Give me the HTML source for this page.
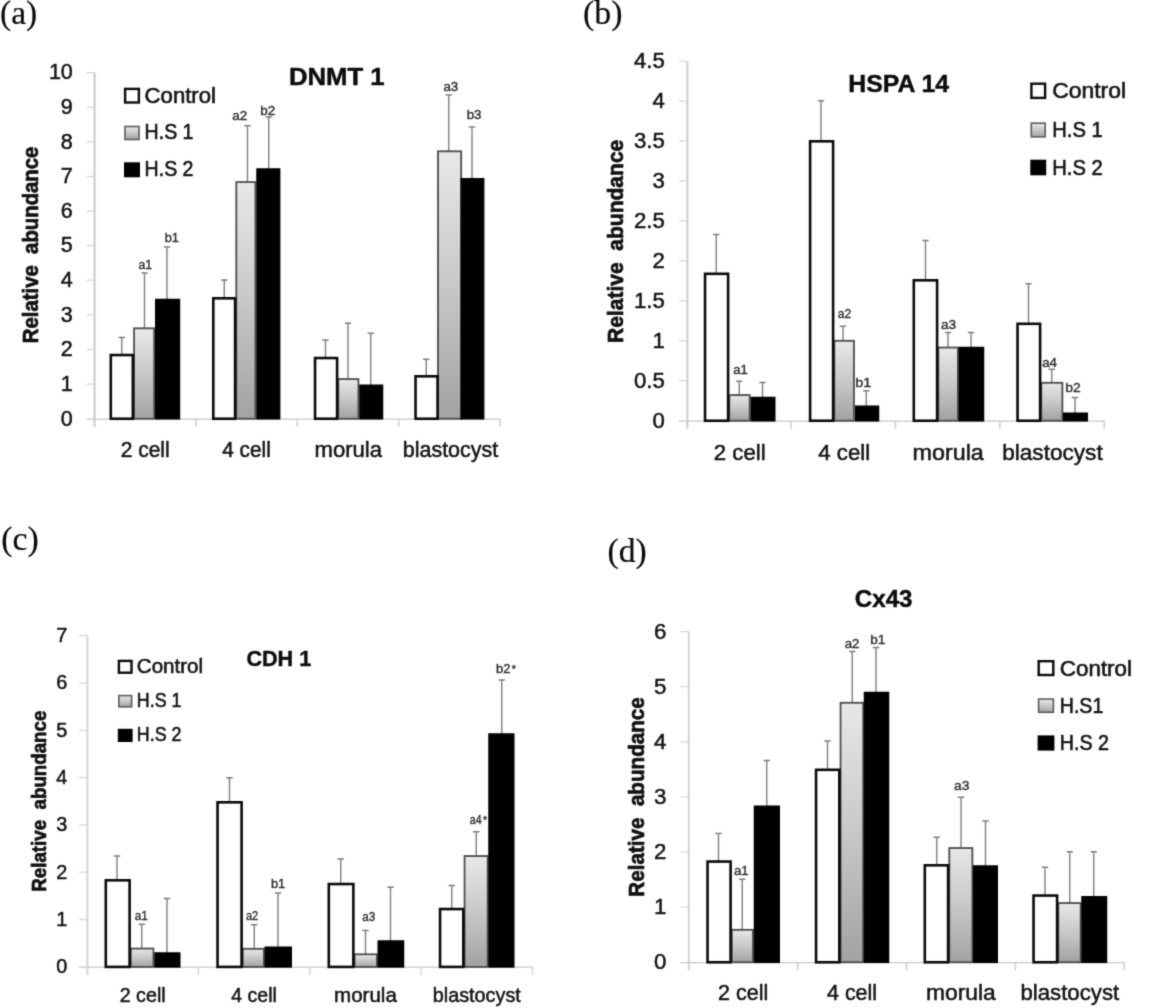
<!DOCTYPE html>
<html><head><meta charset="utf-8"><title>Figure</title>
<style>
html,body{margin:0;padding:0;background:#fff;}
body{width:1158px;height:1008px;overflow:hidden;font-family:"Liberation Sans",sans-serif;}
svg{display:block;}
</style></head><body>
<svg width="1158" height="1008" viewBox="0 0 1158 1008">
<defs><linearGradient id="gg" x1="0" y1="0" x2="0" y2="1"><stop offset="0" stop-color="#e8e8e8"/><stop offset="0.5" stop-color="#c8c8c8"/><stop offset="1" stop-color="#a2a2a2"/></linearGradient></defs>
<filter id="soft" x="0" y="0" width="1158" height="1008" filterUnits="userSpaceOnUse" color-interpolation-filters="sRGB"><feConvolveMatrix order="3" kernelMatrix="0.02426 0.10723 0.02426 0.10723 0.47405 0.10723 0.02426 0.10723 0.02426" divisor="1" edgeMode="duplicate" preserveAlpha="true"/></filter>
<g filter="url(#soft)">
<rect width="1158" height="1008" fill="#fff"/>
<path d="M94.5 72.55000000000001 V426.75" stroke="#cfcfcf" stroke-width="2.3" fill="none"/>
<path d="M86.5 419.15 H500" stroke="#c8c8c8" stroke-width="1.4" fill="none"/>
<text x="72.8" y="425.55" font-size="21.5" text-anchor="end" font-weight="normal" font-family='"Liberation Sans", sans-serif' fill="#141414" stroke="#141414" stroke-width="0.5" stroke-linejoin="round">0</text>
<path d="M86.5 384.13 H94.5" stroke="#d2d2d2" stroke-width="1.1"/>
<text x="72.8" y="390.93" font-size="21.5" text-anchor="end" font-weight="normal" font-family='"Liberation Sans", sans-serif' fill="#141414" stroke="#141414" stroke-width="0.5" stroke-linejoin="round">1</text>
<path d="M86.5 349.51 H94.5" stroke="#d2d2d2" stroke-width="1.1"/>
<text x="72.8" y="356.31" font-size="21.5" text-anchor="end" font-weight="normal" font-family='"Liberation Sans", sans-serif' fill="#141414" stroke="#141414" stroke-width="0.5" stroke-linejoin="round">2</text>
<path d="M86.5 314.89 H94.5" stroke="#d2d2d2" stroke-width="1.1"/>
<text x="72.8" y="321.69" font-size="21.5" text-anchor="end" font-weight="normal" font-family='"Liberation Sans", sans-serif' fill="#141414" stroke="#141414" stroke-width="0.5" stroke-linejoin="round">3</text>
<path d="M86.5 280.27 H94.5" stroke="#d2d2d2" stroke-width="1.1"/>
<text x="72.8" y="287.07" font-size="21.5" text-anchor="end" font-weight="normal" font-family='"Liberation Sans", sans-serif' fill="#141414" stroke="#141414" stroke-width="0.5" stroke-linejoin="round">4</text>
<path d="M86.5 245.65 H94.5" stroke="#d2d2d2" stroke-width="1.1"/>
<text x="72.8" y="252.45" font-size="21.5" text-anchor="end" font-weight="normal" font-family='"Liberation Sans", sans-serif' fill="#141414" stroke="#141414" stroke-width="0.5" stroke-linejoin="round">5</text>
<path d="M86.5 211.03 H94.5" stroke="#d2d2d2" stroke-width="1.1"/>
<text x="72.8" y="217.83" font-size="21.5" text-anchor="end" font-weight="normal" font-family='"Liberation Sans", sans-serif' fill="#141414" stroke="#141414" stroke-width="0.5" stroke-linejoin="round">6</text>
<path d="M86.5 176.41 H94.5" stroke="#d2d2d2" stroke-width="1.1"/>
<text x="72.8" y="183.21" font-size="21.5" text-anchor="end" font-weight="normal" font-family='"Liberation Sans", sans-serif' fill="#141414" stroke="#141414" stroke-width="0.5" stroke-linejoin="round">7</text>
<path d="M86.5 141.79 H94.5" stroke="#d2d2d2" stroke-width="1.1"/>
<text x="72.8" y="148.59" font-size="21.5" text-anchor="end" font-weight="normal" font-family='"Liberation Sans", sans-serif' fill="#141414" stroke="#141414" stroke-width="0.5" stroke-linejoin="round">8</text>
<path d="M86.5 107.17 H94.5" stroke="#d2d2d2" stroke-width="1.1"/>
<text x="72.8" y="113.97" font-size="21.5" text-anchor="end" font-weight="normal" font-family='"Liberation Sans", sans-serif' fill="#141414" stroke="#141414" stroke-width="0.5" stroke-linejoin="round">9</text>
<path d="M86.5 72.55 H94.5" stroke="#d2d2d2" stroke-width="1.1"/>
<text x="72.8" y="79.35" font-size="21.5" text-anchor="end" font-weight="normal" font-family='"Liberation Sans", sans-serif' fill="#141414" stroke="#141414" stroke-width="0.5" stroke-linejoin="round">10</text>
<path d="M195.88 418.75 V426.75" stroke="#cdcdcd" stroke-width="1.5"/>
<path d="M297.25 418.75 V426.75" stroke="#cdcdcd" stroke-width="1.5"/>
<path d="M398.62 418.75 V426.75" stroke="#cdcdcd" stroke-width="1.5"/>
<path d="M500.00 418.75 V426.75" stroke="#cdcdcd" stroke-width="1.5"/>
<text x="145.19" y="457.2" font-size="21.4" text-anchor="middle" font-weight="normal" font-family='"Liberation Sans", sans-serif' fill="#141414" textLength="49" lengthAdjust="spacingAndGlyphs" stroke="#141414" stroke-width="0.5" stroke-linejoin="round">2 cell</text>
<text x="246.56" y="457.2" font-size="21.4" text-anchor="middle" font-weight="normal" font-family='"Liberation Sans", sans-serif' fill="#141414" textLength="48.5" lengthAdjust="spacingAndGlyphs" stroke="#141414" stroke-width="0.5" stroke-linejoin="round">4 cell</text>
<text x="348.24" y="457.2" font-size="21.4" text-anchor="middle" font-weight="normal" font-family='"Liberation Sans", sans-serif' fill="#141414" textLength="67.5" lengthAdjust="spacingAndGlyphs" stroke="#141414" stroke-width="0.5" stroke-linejoin="round">morula</text>
<text x="450.51" y="457.2" font-size="21.4" text-anchor="middle" font-weight="normal" font-family='"Liberation Sans", sans-serif' fill="#141414" textLength="95.5" lengthAdjust="spacingAndGlyphs" stroke="#141414" stroke-width="0.5" stroke-linejoin="round">blastocyst</text>
<text x="145.25" y="269.3" font-size="12.5" text-anchor="middle" font-weight="normal" font-family='"Liberation Sans", sans-serif' fill="#303030" textLength="13.5" lengthAdjust="spacingAndGlyphs" stroke="#303030" stroke-width="0.4" stroke-linejoin="round">a1</text>
<text x="171.88" y="242.3" font-size="12.5" text-anchor="middle" font-weight="normal" font-family='"Liberation Sans", sans-serif' fill="#303030" textLength="14.2" lengthAdjust="spacingAndGlyphs" stroke="#303030" stroke-width="0.4" stroke-linejoin="round">b1</text>
<text x="239.75" y="120.3" font-size="12.5" text-anchor="middle" font-weight="normal" font-family='"Liberation Sans", sans-serif' fill="#303030" textLength="15.0" lengthAdjust="spacingAndGlyphs" stroke="#303030" stroke-width="0.4" stroke-linejoin="round">a2</text>
<text x="267.75" y="115.3" font-size="12.5" text-anchor="middle" font-weight="normal" font-family='"Liberation Sans", sans-serif' fill="#303030" textLength="15.0" lengthAdjust="spacingAndGlyphs" stroke="#303030" stroke-width="0.4" stroke-linejoin="round">b2</text>
<text x="450.88" y="91" font-size="12.5" text-anchor="middle" font-weight="normal" font-family='"Liberation Sans", sans-serif' fill="#303030" textLength="14.8" lengthAdjust="spacingAndGlyphs" stroke="#303030" stroke-width="0.4" stroke-linejoin="round">a3</text>
<text x="474.12" y="119" font-size="12.5" text-anchor="middle" font-weight="normal" font-family='"Liberation Sans", sans-serif' fill="#303030" textLength="14.8" lengthAdjust="spacingAndGlyphs" stroke="#303030" stroke-width="0.4" stroke-linejoin="round">b3</text>
<path d="M121.75 354.75 V337.5 M118.55 337.5 H124.95" stroke="#7e7e7e" stroke-width="1.4" fill="none"/>
<path d="M144.5 328.5 V273 M141.3 273 H147.7" stroke="#7e7e7e" stroke-width="1.4" fill="none"/>
<path d="M167 299.75 V247 M163.8 247 H170.2" stroke="#7e7e7e" stroke-width="1.4" fill="none"/>
<path d="M224.25 298 V280 M221.05 280 H227.45" stroke="#7e7e7e" stroke-width="1.4" fill="none"/>
<path d="M247.5 182.25 V125.75 M244.3 125.75 H250.7" stroke="#7e7e7e" stroke-width="1.4" fill="none"/>
<path d="M268.75 169.25 V117 M265.55 117 H271.95" stroke="#7e7e7e" stroke-width="1.4" fill="none"/>
<path d="M325.5 357.75 V340 M322.3 340 H328.7" stroke="#7e7e7e" stroke-width="1.4" fill="none"/>
<path d="M348 379.25 V323.25 M344.8 323.25 H351.2" stroke="#7e7e7e" stroke-width="1.4" fill="none"/>
<path d="M370.75 385.5 V333.25 M367.55 333.25 H373.95" stroke="#7e7e7e" stroke-width="1.4" fill="none"/>
<path d="M426.25 376 V359.25 M423.05 359.25 H429.45" stroke="#7e7e7e" stroke-width="1.4" fill="none"/>
<path d="M448.75 151.5 V95 M445.55 95 H451.95" stroke="#7e7e7e" stroke-width="1.4" fill="none"/>
<path d="M472 179 V127 M468.8 127 H475.2" stroke="#7e7e7e" stroke-width="1.4" fill="none"/>
<rect x="134.05" y="328.30" width="20.15" height="90.45" fill="url(#gg)" stroke="#4c4c4c" stroke-width="1.8"/>
<rect x="236.30" y="182.05" width="19.15" height="236.70" fill="url(#gg)" stroke="#4c4c4c" stroke-width="1.8"/>
<rect x="338.30" y="379.05" width="20.15" height="39.70" fill="url(#gg)" stroke="#4c4c4c" stroke-width="1.8"/>
<rect x="438.00" y="151.30" width="23.20" height="267.45" fill="url(#gg)" stroke="#4c4c4c" stroke-width="1.8"/>
<rect x="155.00" y="298.75" width="25.20" height="120.80" fill="#000"/>
<rect x="256.25" y="168.25" width="24.15" height="251.30" fill="#000"/>
<rect x="359.25" y="384.50" width="24.00" height="35.05" fill="#000"/>
<rect x="460.50" y="178.00" width="23.90" height="241.55" fill="#000"/>
<rect x="110.80" y="355.05" width="22.05" height="63.70" fill="#fff" stroke="#0a0a0a" stroke-width="2.6"/>
<rect x="213.30" y="298.30" width="21.80" height="120.45" fill="#fff" stroke="#0a0a0a" stroke-width="2.6"/>
<rect x="315.05" y="358.05" width="22.05" height="60.70" fill="#fff" stroke="#0a0a0a" stroke-width="2.6"/>
<rect x="415.55" y="376.30" width="22.05" height="42.45" fill="#fff" stroke="#0a0a0a" stroke-width="2.6"/>
<text x="288.9" y="85.2" font-size="24.3" text-anchor="start" font-weight="bold" font-family='"Liberation Sans", sans-serif' fill="#0c0c0c" textLength="95.7" lengthAdjust="spacingAndGlyphs" stroke="#0c0c0c" stroke-width="0.45" stroke-linejoin="round">DNMT 1</text>
<text transform="translate(37.8,343.2) rotate(-90)" font-size="21.5" font-weight="bold" font-family='"Liberation Sans", sans-serif' fill="#111" stroke="#111" stroke-width="0.7" stroke-linejoin="round" textLength="196.6" lengthAdjust="spacingAndGlyphs" xml:space="preserve">Relative  abundance</text>
<rect x="125.10" y="88.90" width="13.80" height="13.60" fill="#fff" stroke="#0a0a0a" stroke-width="2.4"/>
<text x="144.6" y="102.6" font-size="21.2" text-anchor="start" font-weight="normal" font-family='"Liberation Sans", sans-serif' fill="#141414" textLength="71.4" lengthAdjust="spacingAndGlyphs" stroke="#141414" stroke-width="0.6" stroke-linejoin="round">Control</text>
<rect x="125.00" y="126.50" width="14.00" height="13.00" fill="url(#gg)" stroke="#5c5c5c" stroke-width="1.6"/>
<text x="144.6" y="139.3" font-size="21.2" text-anchor="start" font-weight="normal" font-family='"Liberation Sans", sans-serif' fill="#141414" textLength="48.9" lengthAdjust="spacingAndGlyphs" stroke="#141414" stroke-width="0.6" stroke-linejoin="round">H.S 1</text>
<rect x="124.00" y="162.30" width="16.00" height="15.00" fill="#000"/>
<text x="144.6" y="176.3" font-size="21.2" text-anchor="start" font-weight="normal" font-family='"Liberation Sans", sans-serif' fill="#141414" textLength="48.9" lengthAdjust="spacingAndGlyphs" stroke="#141414" stroke-width="0.6" stroke-linejoin="round">H.S 2</text>
<text x="0" y="24" font-size="34" text-anchor="start" font-weight="normal" font-family='"Liberation Serif", serif' fill="#0a0a0a" textLength="37.2" lengthAdjust="spacingAndGlyphs" stroke="#0a0a0a" stroke-width="0.2" stroke-linejoin="round">(a)</text>
<path d="M687.35 61.19999999999999 V428.75" stroke="#cfcfcf" stroke-width="2.1" fill="none"/>
<path d="M678.75 421.15 H1104.25" stroke="#c8c8c8" stroke-width="1.4" fill="none"/>
<text x="664.8" y="427.75" font-size="22.2" text-anchor="end" font-weight="normal" font-family='"Liberation Sans", sans-serif' fill="#141414" stroke="#141414" stroke-width="0.5" stroke-linejoin="round">0</text>
<path d="M678.75 380.80 H686.75" stroke="#d2d2d2" stroke-width="1.1"/>
<text x="664.8" y="387.80" font-size="22.2" text-anchor="end" font-weight="normal" font-family='"Liberation Sans", sans-serif' fill="#141414" stroke="#141414" stroke-width="0.5" stroke-linejoin="round">0.5</text>
<path d="M678.75 340.85 H686.75" stroke="#d2d2d2" stroke-width="1.1"/>
<text x="664.8" y="347.85" font-size="22.2" text-anchor="end" font-weight="normal" font-family='"Liberation Sans", sans-serif' fill="#141414" stroke="#141414" stroke-width="0.5" stroke-linejoin="round">1</text>
<path d="M678.75 300.90 H686.75" stroke="#d2d2d2" stroke-width="1.1"/>
<text x="664.8" y="307.90" font-size="22.2" text-anchor="end" font-weight="normal" font-family='"Liberation Sans", sans-serif' fill="#141414" stroke="#141414" stroke-width="0.5" stroke-linejoin="round">1.5</text>
<path d="M678.75 260.95 H686.75" stroke="#d2d2d2" stroke-width="1.1"/>
<text x="664.8" y="267.95" font-size="22.2" text-anchor="end" font-weight="normal" font-family='"Liberation Sans", sans-serif' fill="#141414" stroke="#141414" stroke-width="0.5" stroke-linejoin="round">2</text>
<path d="M678.75 221.00 H686.75" stroke="#d2d2d2" stroke-width="1.1"/>
<text x="664.8" y="228.00" font-size="22.2" text-anchor="end" font-weight="normal" font-family='"Liberation Sans", sans-serif' fill="#141414" stroke="#141414" stroke-width="0.5" stroke-linejoin="round">2.5</text>
<path d="M678.75 181.05 H686.75" stroke="#d2d2d2" stroke-width="1.1"/>
<text x="664.8" y="188.05" font-size="22.2" text-anchor="end" font-weight="normal" font-family='"Liberation Sans", sans-serif' fill="#141414" stroke="#141414" stroke-width="0.5" stroke-linejoin="round">3</text>
<path d="M678.75 141.10 H686.75" stroke="#d2d2d2" stroke-width="1.1"/>
<text x="664.8" y="148.10" font-size="22.2" text-anchor="end" font-weight="normal" font-family='"Liberation Sans", sans-serif' fill="#141414" stroke="#141414" stroke-width="0.5" stroke-linejoin="round">3.5</text>
<path d="M678.75 101.15 H686.75" stroke="#d2d2d2" stroke-width="1.1"/>
<text x="664.8" y="108.15" font-size="22.2" text-anchor="end" font-weight="normal" font-family='"Liberation Sans", sans-serif' fill="#141414" stroke="#141414" stroke-width="0.5" stroke-linejoin="round">4</text>
<path d="M678.75 61.20 H686.75" stroke="#d2d2d2" stroke-width="1.1"/>
<text x="664.8" y="68.20" font-size="22.2" text-anchor="end" font-weight="normal" font-family='"Liberation Sans", sans-serif' fill="#141414" stroke="#141414" stroke-width="0.5" stroke-linejoin="round">4.5</text>
<path d="M791.12 420.75 V428.75" stroke="#cdcdcd" stroke-width="1.5"/>
<path d="M895.50 420.75 V428.75" stroke="#cdcdcd" stroke-width="1.5"/>
<path d="M999.88 420.75 V428.75" stroke="#cdcdcd" stroke-width="1.5"/>
<path d="M1104.25 420.75 V428.75" stroke="#cdcdcd" stroke-width="1.5"/>
<text x="739.74" y="460.3" font-size="22.2" text-anchor="middle" font-weight="normal" font-family='"Liberation Sans", sans-serif' fill="#141414" textLength="52" lengthAdjust="spacingAndGlyphs" stroke="#141414" stroke-width="0.5" stroke-linejoin="round">2 cell</text>
<text x="844.21" y="460.3" font-size="22.2" text-anchor="middle" font-weight="normal" font-family='"Liberation Sans", sans-serif' fill="#141414" textLength="52" lengthAdjust="spacingAndGlyphs" stroke="#141414" stroke-width="0.5" stroke-linejoin="round">4 cell</text>
<text x="948.19" y="460.3" font-size="22.2" text-anchor="middle" font-weight="normal" font-family='"Liberation Sans", sans-serif' fill="#141414" textLength="71.3" lengthAdjust="spacingAndGlyphs" stroke="#141414" stroke-width="0.5" stroke-linejoin="round">morula</text>
<text x="1052.46" y="460.3" font-size="22.2" text-anchor="middle" font-weight="normal" font-family='"Liberation Sans", sans-serif' fill="#141414" textLength="100.5" lengthAdjust="spacingAndGlyphs" stroke="#141414" stroke-width="0.5" stroke-linejoin="round">blastocyst</text>
<text x="740.50" y="374.3" font-size="13" text-anchor="middle" font-weight="normal" font-family='"Liberation Sans", sans-serif' fill="#303030" textLength="14.5" lengthAdjust="spacingAndGlyphs" stroke="#303030" stroke-width="0.4" stroke-linejoin="round">a1</text>
<text x="844.50" y="318" font-size="13" text-anchor="middle" font-weight="normal" font-family='"Liberation Sans", sans-serif' fill="#303030" textLength="13.5" lengthAdjust="spacingAndGlyphs" stroke="#303030" stroke-width="0.4" stroke-linejoin="round">a2</text>
<text x="863.25" y="386.8" font-size="13" text-anchor="middle" font-weight="normal" font-family='"Liberation Sans", sans-serif' fill="#303030" textLength="16.0" lengthAdjust="spacingAndGlyphs" stroke="#303030" stroke-width="0.4" stroke-linejoin="round">b1</text>
<text x="948.62" y="329.3" font-size="13" text-anchor="middle" font-weight="normal" font-family='"Liberation Sans", sans-serif' fill="#303030" textLength="15.2" lengthAdjust="spacingAndGlyphs" stroke="#303030" stroke-width="0.4" stroke-linejoin="round">a3</text>
<text x="1049.62" y="366.5" font-size="13" text-anchor="middle" font-weight="normal" font-family='"Liberation Sans", sans-serif' fill="#303030" textLength="14.8" lengthAdjust="spacingAndGlyphs" stroke="#303030" stroke-width="0.4" stroke-linejoin="round">a4</text>
<text x="1073.00" y="391.5" font-size="13" text-anchor="middle" font-weight="normal" font-family='"Liberation Sans", sans-serif' fill="#303030" textLength="15.5" lengthAdjust="spacingAndGlyphs" stroke="#303030" stroke-width="0.4" stroke-linejoin="round">b2</text>
<path d="M716.25 273.5 V234.5 M713.05 234.5 H719.45" stroke="#7e7e7e" stroke-width="1.4" fill="none"/>
<path d="M739.25 395.25 V381.25 M736.05 381.25 H742.45" stroke="#7e7e7e" stroke-width="1.4" fill="none"/>
<path d="M762.5 397.75 V382.5 M759.3 382.5 H765.7" stroke="#7e7e7e" stroke-width="1.4" fill="none"/>
<path d="M821 141 V100.75 M817.8 100.75 H824.2" stroke="#7e7e7e" stroke-width="1.4" fill="none"/>
<path d="M843 341 V326.25 M839.8 326.25 H846.2" stroke="#7e7e7e" stroke-width="1.4" fill="none"/>
<path d="M866.25 406.5 V390.75 M863.05 390.75 H869.45" stroke="#7e7e7e" stroke-width="1.4" fill="none"/>
<path d="M925.5 280 V240.5 M922.3 240.5 H928.7" stroke="#7e7e7e" stroke-width="1.4" fill="none"/>
<path d="M948 347.75 V332.5 M944.8 332.5 H951.2" stroke="#7e7e7e" stroke-width="1.4" fill="none"/>
<path d="M971 347.75 V332.5 M967.8 332.5 H974.2" stroke="#7e7e7e" stroke-width="1.4" fill="none"/>
<path d="M1028.5 323.5 V283.75 M1025.3 283.75 H1031.7" stroke="#7e7e7e" stroke-width="1.4" fill="none"/>
<path d="M1051.75 383 V369.25 M1048.55 369.25 H1054.95" stroke="#7e7e7e" stroke-width="1.4" fill="none"/>
<path d="M1075 413.5 V397.5 M1071.8 397.5 H1078.2" stroke="#7e7e7e" stroke-width="1.4" fill="none"/>
<rect x="729.30" y="395.05" width="20.40" height="25.70" fill="url(#gg)" stroke="#4c4c4c" stroke-width="1.8"/>
<rect x="834.30" y="340.80" width="19.65" height="79.95" fill="url(#gg)" stroke="#4c4c4c" stroke-width="1.8"/>
<rect x="938.30" y="347.55" width="19.65" height="73.20" fill="url(#gg)" stroke="#4c4c4c" stroke-width="1.8"/>
<rect x="1041.30" y="382.80" width="21.10" height="37.95" fill="url(#gg)" stroke="#4c4c4c" stroke-width="1.8"/>
<rect x="750.50" y="396.75" width="25.00" height="24.80" fill="#000"/>
<rect x="855.00" y="405.50" width="24.25" height="16.05" fill="#000"/>
<rect x="958.50" y="346.75" width="25.75" height="74.80" fill="#000"/>
<rect x="1063.00" y="412.50" width="25.00" height="9.05" fill="#000"/>
<rect x="705.05" y="273.80" width="23.05" height="146.95" fill="#fff" stroke="#0a0a0a" stroke-width="2.6"/>
<rect x="810.10" y="141.30" width="23.00" height="279.45" fill="#fff" stroke="#0a0a0a" stroke-width="2.6"/>
<rect x="913.80" y="280.30" width="23.30" height="140.45" fill="#fff" stroke="#0a0a0a" stroke-width="2.6"/>
<rect x="1017.55" y="323.80" width="22.55" height="96.95" fill="#fff" stroke="#0a0a0a" stroke-width="2.6"/>
<text x="848.3" y="91.5" font-size="24.2" text-anchor="start" font-weight="bold" font-family='"Liberation Sans", sans-serif' fill="#0c0c0c" textLength="100.7" lengthAdjust="spacingAndGlyphs" stroke="#0c0c0c" stroke-width="0.45" stroke-linejoin="round">HSPA 14</text>
<text transform="translate(623.2,343) rotate(-90)" font-size="22" font-weight="bold" font-family='"Liberation Sans", sans-serif' fill="#111" stroke="#111" stroke-width="0.7" stroke-linejoin="round" textLength="203.3" lengthAdjust="spacingAndGlyphs" xml:space="preserve">Relative  abundance</text>
<rect x="1031.40" y="83.70" width="13.70" height="14.20" fill="#fff" stroke="#0a0a0a" stroke-width="2.4"/>
<text x="1052.2" y="98.4" font-size="22" text-anchor="start" font-weight="normal" font-family='"Liberation Sans", sans-serif' fill="#141414" textLength="73.8" lengthAdjust="spacingAndGlyphs" stroke="#141414" stroke-width="0.6" stroke-linejoin="round">Control</text>
<rect x="1031.30" y="123.20" width="13.90" height="13.60" fill="url(#gg)" stroke="#5c5c5c" stroke-width="1.6"/>
<text x="1052.2" y="137" font-size="22" text-anchor="start" font-weight="normal" font-family='"Liberation Sans", sans-serif' fill="#141414" textLength="50.5" lengthAdjust="spacingAndGlyphs" stroke="#141414" stroke-width="0.6" stroke-linejoin="round">H.S 1</text>
<rect x="1030.30" y="159.70" width="15.90" height="15.60" fill="#000"/>
<text x="1052.2" y="174.7" font-size="22" text-anchor="start" font-weight="normal" font-family='"Liberation Sans", sans-serif' fill="#141414" textLength="50.5" lengthAdjust="spacingAndGlyphs" stroke="#141414" stroke-width="0.6" stroke-linejoin="round">H.S 2</text>
<text x="583" y="23.8" font-size="34" text-anchor="start" font-weight="normal" font-family='"Liberation Serif", serif' fill="#0a0a0a" textLength="39.5" lengthAdjust="spacingAndGlyphs" stroke="#0a0a0a" stroke-width="0.2" stroke-linejoin="round">(b)</text>
<path d="M87.4 635.66 V974.9" stroke="#d4d4d4" stroke-width="2.0" fill="none"/>
<path d="M79 967.3 H532.5" stroke="#d2d2d2" stroke-width="1.4" fill="none"/>
<text x="67.2" y="973.30" font-size="19.9" text-anchor="end" font-weight="normal" font-family='"Liberation Sans", sans-serif' fill="#141414" stroke="#141414" stroke-width="0.5" stroke-linejoin="round">0</text>
<path d="M79 919.58 H87" stroke="#d2d2d2" stroke-width="1.1"/>
<text x="67.2" y="925.98" font-size="19.9" text-anchor="end" font-weight="normal" font-family='"Liberation Sans", sans-serif' fill="#141414" stroke="#141414" stroke-width="0.5" stroke-linejoin="round">1</text>
<path d="M79 872.26 H87" stroke="#d2d2d2" stroke-width="1.1"/>
<text x="67.2" y="878.66" font-size="19.9" text-anchor="end" font-weight="normal" font-family='"Liberation Sans", sans-serif' fill="#141414" stroke="#141414" stroke-width="0.5" stroke-linejoin="round">2</text>
<path d="M79 824.94 H87" stroke="#d2d2d2" stroke-width="1.1"/>
<text x="67.2" y="831.34" font-size="19.9" text-anchor="end" font-weight="normal" font-family='"Liberation Sans", sans-serif' fill="#141414" stroke="#141414" stroke-width="0.5" stroke-linejoin="round">3</text>
<path d="M79 777.62 H87" stroke="#d2d2d2" stroke-width="1.1"/>
<text x="67.2" y="784.02" font-size="19.9" text-anchor="end" font-weight="normal" font-family='"Liberation Sans", sans-serif' fill="#141414" stroke="#141414" stroke-width="0.5" stroke-linejoin="round">4</text>
<path d="M79 730.30 H87" stroke="#d2d2d2" stroke-width="1.1"/>
<text x="67.2" y="736.70" font-size="19.9" text-anchor="end" font-weight="normal" font-family='"Liberation Sans", sans-serif' fill="#141414" stroke="#141414" stroke-width="0.5" stroke-linejoin="round">5</text>
<path d="M79 682.98 H87" stroke="#d2d2d2" stroke-width="1.1"/>
<text x="67.2" y="689.38" font-size="19.9" text-anchor="end" font-weight="normal" font-family='"Liberation Sans", sans-serif' fill="#141414" stroke="#141414" stroke-width="0.5" stroke-linejoin="round">6</text>
<path d="M79 635.66 H87" stroke="#d2d2d2" stroke-width="1.1"/>
<text x="67.2" y="642.06" font-size="19.9" text-anchor="end" font-weight="normal" font-family='"Liberation Sans", sans-serif' fill="#141414" stroke="#141414" stroke-width="0.5" stroke-linejoin="round">7</text>
<path d="M198.38 966.9 V974.9" stroke="#d6d6d6" stroke-width="1.5"/>
<path d="M309.75 966.9 V974.9" stroke="#d6d6d6" stroke-width="1.5"/>
<path d="M421.12 966.9 V974.9" stroke="#d6d6d6" stroke-width="1.5"/>
<path d="M532.50 966.9 V974.9" stroke="#d6d6d6" stroke-width="1.5"/>
<text x="142.69" y="1001.8" font-size="19.9" text-anchor="middle" font-weight="normal" font-family='"Liberation Sans", sans-serif' fill="#141414" textLength="46" lengthAdjust="spacingAndGlyphs" stroke="#141414" stroke-width="0.5" stroke-linejoin="round">2 cell</text>
<text x="254.06" y="1001.8" font-size="19.9" text-anchor="middle" font-weight="normal" font-family='"Liberation Sans", sans-serif' fill="#141414" textLength="45.5" lengthAdjust="spacingAndGlyphs" stroke="#141414" stroke-width="0.5" stroke-linejoin="round">4 cell</text>
<text x="365.44" y="1001.8" font-size="19.9" text-anchor="middle" font-weight="normal" font-family='"Liberation Sans", sans-serif' fill="#141414" textLength="62.75" lengthAdjust="spacingAndGlyphs" stroke="#141414" stroke-width="0.5" stroke-linejoin="round">morula</text>
<text x="476.81" y="1001.8" font-size="19.9" text-anchor="middle" font-weight="normal" font-family='"Liberation Sans", sans-serif' fill="#141414" textLength="88" lengthAdjust="spacingAndGlyphs" stroke="#141414" stroke-width="0.5" stroke-linejoin="round">blastocyst</text>
<text x="141.25" y="920.3" font-size="12" text-anchor="middle" font-weight="normal" font-family='"Liberation Sans", sans-serif' fill="#303030" textLength="13.0" lengthAdjust="spacingAndGlyphs" stroke="#303030" stroke-width="0.4" stroke-linejoin="round">a1</text>
<text x="252.12" y="919.5" font-size="12" text-anchor="middle" font-weight="normal" font-family='"Liberation Sans", sans-serif' fill="#303030" textLength="12.2" lengthAdjust="spacingAndGlyphs" stroke="#303030" stroke-width="0.4" stroke-linejoin="round">a2</text>
<text x="278.12" y="887.5" font-size="12" text-anchor="middle" font-weight="normal" font-family='"Liberation Sans", sans-serif' fill="#303030" textLength="14.2" lengthAdjust="spacingAndGlyphs" stroke="#303030" stroke-width="0.4" stroke-linejoin="round">b1</text>
<text x="368.75" y="921.3" font-size="12" text-anchor="middle" font-weight="normal" font-family='"Liberation Sans", sans-serif' fill="#303030" textLength="13.0" lengthAdjust="spacingAndGlyphs" stroke="#303030" stroke-width="0.4" stroke-linejoin="round">a3</text>
<text x="482.90" y="823.70" font-size="10.5" text-anchor="start" font-weight="normal" font-family='"Liberation Sans", sans-serif' fill="#303030" stroke="#303030" stroke-width="0.35" stroke-linejoin="round">*</text>
<text x="475.65" y="824" font-size="12" text-anchor="middle" font-weight="normal" font-family='"Liberation Sans", sans-serif' fill="#303030" textLength="11.8" lengthAdjust="spacingAndGlyphs" stroke="#303030" stroke-width="0.4" stroke-linejoin="round">a4</text>
<text x="511.65" y="672.50" font-size="10.5" text-anchor="start" font-weight="normal" font-family='"Liberation Sans", sans-serif' fill="#303030" stroke="#303030" stroke-width="0.35" stroke-linejoin="round">*</text>
<text x="503.15" y="672.8" font-size="12" text-anchor="middle" font-weight="normal" font-family='"Liberation Sans", sans-serif' fill="#303030" textLength="14.3" lengthAdjust="spacingAndGlyphs" stroke="#303030" stroke-width="0.4" stroke-linejoin="round">b2</text>
<path d="M117 880 V856 M113.8 856 H120.2" stroke="#7e7e7e" stroke-width="1.4" fill="none"/>
<path d="M141.75 948.75 V924.25 M138.55 924.25 H144.95" stroke="#7e7e7e" stroke-width="1.4" fill="none"/>
<path d="M167 953.25 V898.5 M163.8 898.5 H170.2" stroke="#7e7e7e" stroke-width="1.4" fill="none"/>
<path d="M229.5 802 V777.75 M226.3 777.75 H232.7" stroke="#7e7e7e" stroke-width="1.4" fill="none"/>
<path d="M254.25 949 V924.75 M251.05 924.75 H257.45" stroke="#7e7e7e" stroke-width="1.4" fill="none"/>
<path d="M278 947.5 V893 M274.8 893 H281.2" stroke="#7e7e7e" stroke-width="1.4" fill="none"/>
<path d="M340.75 883.75 V859 M337.55 859 H343.95" stroke="#7e7e7e" stroke-width="1.4" fill="none"/>
<path d="M365.5 954.5 V930.5 M362.3 930.5 H368.7" stroke="#7e7e7e" stroke-width="1.4" fill="none"/>
<path d="M390.5 941.25 V887.25 M387.3 887.25 H393.7" stroke="#7e7e7e" stroke-width="1.4" fill="none"/>
<path d="M451.75 908.75 V885.5 M448.55 885.5 H454.95" stroke="#7e7e7e" stroke-width="1.4" fill="none"/>
<path d="M476.25 856.25 V831.75 M473.05 831.75 H479.45" stroke="#7e7e7e" stroke-width="1.4" fill="none"/>
<path d="M501.75 734.25 V680 M498.55 680 H504.95" stroke="#7e7e7e" stroke-width="1.4" fill="none"/>
<rect x="130.80" y="948.55" width="22.65" height="18.35" fill="url(#gg)" stroke="#4c4c4c" stroke-width="1.8"/>
<rect x="242.80" y="948.80" width="21.10" height="18.10" fill="url(#gg)" stroke="#4c4c4c" stroke-width="1.8"/>
<rect x="354.55" y="954.30" width="22.35" height="12.60" fill="url(#gg)" stroke="#4c4c4c" stroke-width="1.8"/>
<rect x="464.55" y="856.05" width="23.15" height="110.85" fill="url(#gg)" stroke="#4c4c4c" stroke-width="1.8"/>
<rect x="154.25" y="952.25" width="26.25" height="15.45" fill="#000"/>
<rect x="264.50" y="946.50" width="27.50" height="21.20" fill="#000"/>
<rect x="377.50" y="940.25" width="26.75" height="27.45" fill="#000"/>
<rect x="488.25" y="733.25" width="26.25" height="234.45" fill="#000"/>
<rect x="105.80" y="880.30" width="23.80" height="86.60" fill="#fff" stroke="#0a0a0a" stroke-width="2.6"/>
<rect x="217.55" y="802.30" width="24.05" height="164.60" fill="#fff" stroke="#0a0a0a" stroke-width="2.6"/>
<rect x="328.80" y="884.05" width="24.55" height="82.85" fill="#fff" stroke="#0a0a0a" stroke-width="2.6"/>
<rect x="440.05" y="909.05" width="23.30" height="57.85" fill="#fff" stroke="#0a0a0a" stroke-width="2.6"/>
<text x="246.4" y="665.7" font-size="22.8" text-anchor="start" font-weight="bold" font-family='"Liberation Sans", sans-serif' fill="#0c0c0c" textLength="64.8" lengthAdjust="spacingAndGlyphs" stroke="#0c0c0c" stroke-width="0.45" stroke-linejoin="round">CDH 1</text>
<text transform="translate(46.1,891.7) rotate(-90)" font-size="20" font-weight="bold" font-family='"Liberation Sans", sans-serif' fill="#111" stroke="#111" stroke-width="0.7" stroke-linejoin="round" textLength="181.1" lengthAdjust="spacingAndGlyphs" xml:space="preserve">Relative  abundance</text>
<rect x="118.90" y="660.90" width="12.60" height="11.80" fill="#fff" stroke="#0a0a0a" stroke-width="2.4"/>
<text x="136.8" y="672.8" font-size="19.7" text-anchor="start" font-weight="normal" font-family='"Liberation Sans", sans-serif' fill="#141414" textLength="66.2" lengthAdjust="spacingAndGlyphs" stroke="#141414" stroke-width="0.6" stroke-linejoin="round">Control</text>
<rect x="118.80" y="695.60" width="12.80" height="11.20" fill="url(#gg)" stroke="#5c5c5c" stroke-width="1.6"/>
<text x="136.8" y="706.6" font-size="19.7" text-anchor="start" font-weight="normal" font-family='"Liberation Sans", sans-serif' fill="#141414" textLength="44.7" lengthAdjust="spacingAndGlyphs" stroke="#141414" stroke-width="0.6" stroke-linejoin="round">H.S 1</text>
<rect x="117.80" y="728.80" width="14.80" height="13.20" fill="#000"/>
<text x="136.8" y="741" font-size="19.7" text-anchor="start" font-weight="normal" font-family='"Liberation Sans", sans-serif' fill="#141414" textLength="44.7" lengthAdjust="spacingAndGlyphs" stroke="#141414" stroke-width="0.6" stroke-linejoin="round">H.S 2</text>
<text x="1.25" y="550.25" font-size="34" text-anchor="start" font-weight="normal" font-family='"Liberation Serif", serif' fill="#0a0a0a" textLength="37.5" lengthAdjust="spacingAndGlyphs" stroke="#0a0a0a" stroke-width="0.2" stroke-linejoin="round">(c)</text>
<path d="M688.75 631.65 V970.25" stroke="#cfcfcf" stroke-width="1.8" fill="none"/>
<path d="M680.75 962.65 H1124.25" stroke="#c8c8c8" stroke-width="1.4" fill="none"/>
<text x="666.3" y="969.35" font-size="22.3" text-anchor="end" font-weight="normal" font-family='"Liberation Sans", sans-serif' fill="#141414" stroke="#141414" stroke-width="0.5" stroke-linejoin="round">0</text>
<path d="M680.75 907.15 H688.75" stroke="#d2d2d2" stroke-width="1.1"/>
<text x="666.3" y="914.25" font-size="22.3" text-anchor="end" font-weight="normal" font-family='"Liberation Sans", sans-serif' fill="#141414" stroke="#141414" stroke-width="0.5" stroke-linejoin="round">1</text>
<path d="M680.75 852.05 H688.75" stroke="#d2d2d2" stroke-width="1.1"/>
<text x="666.3" y="859.15" font-size="22.3" text-anchor="end" font-weight="normal" font-family='"Liberation Sans", sans-serif' fill="#141414" stroke="#141414" stroke-width="0.5" stroke-linejoin="round">2</text>
<path d="M680.75 796.95 H688.75" stroke="#d2d2d2" stroke-width="1.1"/>
<text x="666.3" y="804.05" font-size="22.3" text-anchor="end" font-weight="normal" font-family='"Liberation Sans", sans-serif' fill="#141414" stroke="#141414" stroke-width="0.5" stroke-linejoin="round">3</text>
<path d="M680.75 741.85 H688.75" stroke="#d2d2d2" stroke-width="1.1"/>
<text x="666.3" y="748.95" font-size="22.3" text-anchor="end" font-weight="normal" font-family='"Liberation Sans", sans-serif' fill="#141414" stroke="#141414" stroke-width="0.5" stroke-linejoin="round">4</text>
<path d="M680.75 686.75 H688.75" stroke="#d2d2d2" stroke-width="1.1"/>
<text x="666.3" y="693.85" font-size="22.3" text-anchor="end" font-weight="normal" font-family='"Liberation Sans", sans-serif' fill="#141414" stroke="#141414" stroke-width="0.5" stroke-linejoin="round">5</text>
<path d="M680.75 631.65 H688.75" stroke="#d2d2d2" stroke-width="1.1"/>
<text x="666.3" y="638.75" font-size="22.3" text-anchor="end" font-weight="normal" font-family='"Liberation Sans", sans-serif' fill="#141414" stroke="#141414" stroke-width="0.5" stroke-linejoin="round">6</text>
<path d="M797.62 962.25 V970.25" stroke="#cdcdcd" stroke-width="1.5"/>
<path d="M906.50 962.25 V970.25" stroke="#cdcdcd" stroke-width="1.5"/>
<path d="M1015.38 962.25 V970.25" stroke="#cdcdcd" stroke-width="1.5"/>
<path d="M1124.25 962.25 V970.25" stroke="#cdcdcd" stroke-width="1.5"/>
<text x="743.19" y="999.9" font-size="22" text-anchor="middle" font-weight="normal" font-family='"Liberation Sans", sans-serif' fill="#141414" textLength="50.25" lengthAdjust="spacingAndGlyphs" stroke="#141414" stroke-width="0.5" stroke-linejoin="round">2 cell</text>
<text x="852.06" y="999.9" font-size="22" text-anchor="middle" font-weight="normal" font-family='"Liberation Sans", sans-serif' fill="#141414" textLength="50" lengthAdjust="spacingAndGlyphs" stroke="#141414" stroke-width="0.5" stroke-linejoin="round">4 cell</text>
<text x="960.94" y="999.9" font-size="22" text-anchor="middle" font-weight="normal" font-family='"Liberation Sans", sans-serif' fill="#141414" textLength="69.75" lengthAdjust="spacingAndGlyphs" stroke="#141414" stroke-width="0.5" stroke-linejoin="round">morula</text>
<text x="1069.81" y="999.9" font-size="22" text-anchor="middle" font-weight="normal" font-family='"Liberation Sans", sans-serif' fill="#141414" textLength="98.75" lengthAdjust="spacingAndGlyphs" stroke="#141414" stroke-width="0.5" stroke-linejoin="round">blastocyst</text>
<text x="741.38" y="874.5" font-size="13" text-anchor="middle" font-weight="normal" font-family='"Liberation Sans", sans-serif' fill="#303030" textLength="14.8" lengthAdjust="spacingAndGlyphs" stroke="#303030" stroke-width="0.4" stroke-linejoin="round">a1</text>
<text x="852.12" y="647.5" font-size="13" text-anchor="middle" font-weight="normal" font-family='"Liberation Sans", sans-serif' fill="#303030" textLength="14.8" lengthAdjust="spacingAndGlyphs" stroke="#303030" stroke-width="0.4" stroke-linejoin="round">a2</text>
<text x="877.75" y="643.5" font-size="13" text-anchor="middle" font-weight="normal" font-family='"Liberation Sans", sans-serif' fill="#303030" textLength="15.0" lengthAdjust="spacingAndGlyphs" stroke="#303030" stroke-width="0.4" stroke-linejoin="round">b1</text>
<text x="961.75" y="789.8" font-size="13" text-anchor="middle" font-weight="normal" font-family='"Liberation Sans", sans-serif' fill="#303030" textLength="15.5" lengthAdjust="spacingAndGlyphs" stroke="#303030" stroke-width="0.4" stroke-linejoin="round">a3</text>
<path d="M718.5 861.25 V833.5 M715.3 833.5 H721.7" stroke="#7e7e7e" stroke-width="1.4" fill="none"/>
<path d="M742.25 930 V879.25 M739.05 879.25 H745.45" stroke="#7e7e7e" stroke-width="1.4" fill="none"/>
<path d="M766.75 806.5 V760.5 M763.55 760.5 H769.95" stroke="#7e7e7e" stroke-width="1.4" fill="none"/>
<path d="M827.5 769.5 V741 M824.3 741 H830.7" stroke="#7e7e7e" stroke-width="1.4" fill="none"/>
<path d="M852.25 703 V651.5 M849.05 651.5 H855.45" stroke="#7e7e7e" stroke-width="1.4" fill="none"/>
<path d="M876 692.75 V647.5 M872.8 647.5 H879.2" stroke="#7e7e7e" stroke-width="1.4" fill="none"/>
<path d="M936.75 865 V837.25 M933.55 837.25 H939.95" stroke="#7e7e7e" stroke-width="1.4" fill="none"/>
<path d="M961 848.25 V797.25 M957.8 797.25 H964.2" stroke="#7e7e7e" stroke-width="1.4" fill="none"/>
<path d="M985.5 866.25 V821 M982.3 821 H988.7" stroke="#7e7e7e" stroke-width="1.4" fill="none"/>
<path d="M1045 895.25 V867.25 M1041.8 867.25 H1048.2" stroke="#7e7e7e" stroke-width="1.4" fill="none"/>
<path d="M1069.75 903.25 V851.75 M1066.55 851.75 H1072.95" stroke="#7e7e7e" stroke-width="1.4" fill="none"/>
<path d="M1093.75 897 V851.75 M1090.55 851.75 H1096.95" stroke="#7e7e7e" stroke-width="1.4" fill="none"/>
<rect x="731.80" y="929.80" width="21.15" height="32.45" fill="url(#gg)" stroke="#4c4c4c" stroke-width="1.8"/>
<rect x="840.55" y="702.80" width="22.65" height="259.45" fill="url(#gg)" stroke="#4c4c4c" stroke-width="1.8"/>
<rect x="949.30" y="848.05" width="23.10" height="114.20" fill="url(#gg)" stroke="#4c4c4c" stroke-width="1.8"/>
<rect x="1058.30" y="903.05" width="22.40" height="59.20" fill="url(#gg)" stroke="#4c4c4c" stroke-width="1.8"/>
<rect x="753.75" y="805.50" width="26.25" height="157.55" fill="#000"/>
<rect x="863.75" y="691.75" width="25.50" height="271.30" fill="#000"/>
<rect x="973.00" y="865.25" width="25.00" height="97.80" fill="#000"/>
<rect x="1081.25" y="896.00" width="26.00" height="67.05" fill="#000"/>
<rect x="707.55" y="861.55" width="23.05" height="100.70" fill="#fff" stroke="#0a0a0a" stroke-width="2.6"/>
<rect x="816.05" y="769.80" width="23.30" height="192.45" fill="#fff" stroke="#0a0a0a" stroke-width="2.6"/>
<rect x="924.80" y="865.30" width="23.30" height="96.95" fill="#fff" stroke="#0a0a0a" stroke-width="2.6"/>
<rect x="1033.55" y="895.55" width="23.55" height="66.70" fill="#fff" stroke="#0a0a0a" stroke-width="2.6"/>
<text x="854.8" y="606.5" font-size="24.8" text-anchor="start" font-weight="bold" font-family='"Liberation Sans", sans-serif' fill="#0c0c0c" textLength="57.7" lengthAdjust="spacingAndGlyphs" stroke="#0c0c0c" stroke-width="0.45" stroke-linejoin="round">Cx43</text>
<text transform="translate(643.5,896.7) rotate(-90)" font-size="21.5" font-weight="bold" font-family='"Liberation Sans", sans-serif' fill="#111" stroke="#111" stroke-width="0.7" stroke-linejoin="round" textLength="199.5" lengthAdjust="spacingAndGlyphs" xml:space="preserve">Relative  abundance</text>
<rect x="1038.70" y="661.20" width="14.60" height="13.80" fill="#fff" stroke="#0a0a0a" stroke-width="2.4"/>
<text x="1059.8" y="675.6" font-size="21.9" text-anchor="start" font-weight="normal" font-family='"Liberation Sans", sans-serif' fill="#141414" textLength="72.2" lengthAdjust="spacingAndGlyphs" stroke="#141414" stroke-width="0.6" stroke-linejoin="round">Control</text>
<rect x="1038.60" y="699.10" width="14.80" height="13.20" fill="url(#gg)" stroke="#5c5c5c" stroke-width="1.6"/>
<text x="1059.8" y="712.6" font-size="21.9" text-anchor="start" font-weight="normal" font-family='"Liberation Sans", sans-serif' fill="#141414" textLength="43.5" lengthAdjust="spacingAndGlyphs" stroke="#141414" stroke-width="0.6" stroke-linejoin="round">H.S1</text>
<rect x="1037.60" y="735.40" width="16.80" height="15.20" fill="#000"/>
<text x="1059.8" y="750.1" font-size="21.9" text-anchor="start" font-weight="normal" font-family='"Liberation Sans", sans-serif' fill="#141414" textLength="49.2" lengthAdjust="spacingAndGlyphs" stroke="#141414" stroke-width="0.6" stroke-linejoin="round">H.S 2</text>
<text x="607.5" y="562" font-size="34" text-anchor="start" font-weight="normal" font-family='"Liberation Serif", serif' fill="#0a0a0a" textLength="39.2" lengthAdjust="spacingAndGlyphs" stroke="#0a0a0a" stroke-width="0.2" stroke-linejoin="round">(d)</text>
</g>
</svg>
</body></html>
